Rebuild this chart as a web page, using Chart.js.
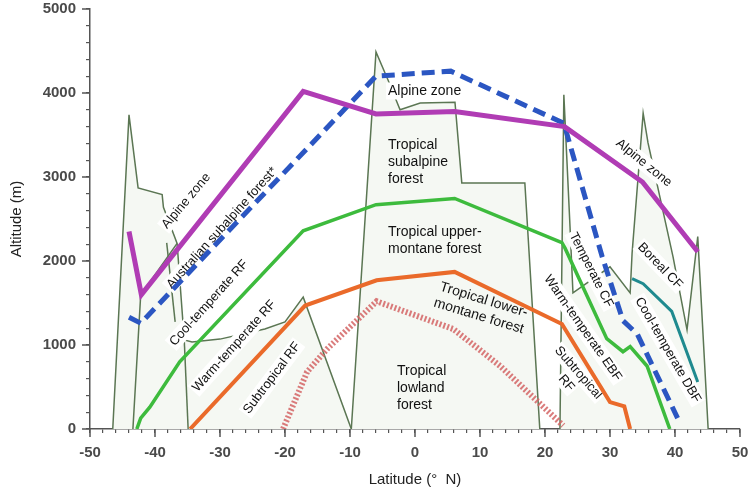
<!DOCTYPE html>
<html>
<head>
<meta charset="utf-8">
<script src="https://cdn.jsdelivr.net/npm/chart.js@4.4.1/dist/chart.umd.min.js"></script>
<style>
  html, body { margin: 0; padding: 0; background: #fff; }
  #wrap { width: 748px; height: 493px; }
</style>
</head>
<body>
<div id="wrap"><canvas id="chart"></canvas></div>
<script>
// tick labels
const latTicks = [-50, -40, -30, -20, -10, 0, 10, 20, 30, 40, 50];
const altTicks = [0, 1000, 2000, 3000, 4000, 5000];

// zone boundaries: latitude (deg N) / altitude (m)
const alpineLat = [-44, -42.1, -17.2, -6, 6.1, 23, 35, 43.5];
const alpineAlt = [2350, 1600, 4020, 3750, 3780, 3600, 2940, 2110];

const subalpineLat = [-44, -42.2, -6, 5.5, 22.9, 28.8, 32, 34.2, 40.4];
const subalpineAlt = [1330, 1260, 4200, 4260, 3640, 2050, 1290, 1130, 130];

const upperLat = [-42.8, -42.2, -40.8, -36.2, -17.2, -6, 6.1, 22.6, 23.1, 29.5, 32, 33.1, 35.7, 39.2];
const upperAlt = [0, 130, 260, 800, 2360, 2670, 2745, 2220, 2150, 1075, 920, 980, 750, 0];

const lowerLat = [-34.6, -16.9, -5.9, 6.1, 22.6, 30, 32.2, 33.1];
const lowerAlt = [0, 1470, 1770, 1870, 1250, 320, 270, 0];

const lowlandLat = [-20.3, -16.6, -13.5, -5.9, 5.9, 13.1, 22.8];
const lowlandAlt = [0, 680, 955, 1520, 1190, 750, 40];

const dbfLat = [33.4, 35.1, 39.5, 43.5];
const dbfAlt = [1790, 1730, 1400, 560];

// grey mountain outlines
const westLat = [-46.5, -44, -42.6, -38.9, -38.7, -36.6, -35.5, -34.3, -30, -23.1, -20, -17.2, -9.8];
const westAlt = [0, 3740, 2870, 2790, 2640, 2210, 1060, 1036, 1070, 1190, 1275, 1570, 0];

const midLat = [-9.8, -6, -4.15, -2.3, 0.8, 6.15, 7.2, 16.9, 19.2];
const midAlt = [0, 4490, 4155, 3800, 3880, 3890, 2930, 2930, 0];

const eastLat = [22.3, 22.9, 23.85, 24.3, 30, 33.1, 33.4, 35.1, 35.85, 39.7, 41.85, 43.5, 45.1];
const eastAlt = [0, 3980, 2405, 1620, 1930, 1620, 2095, 3760, 3405, 2050, 1180, 2290, 0];

const innerLat1 = [-43.4, -42.2, -36.6];
const innerAlt1 = [0, 1595, 2210];
const innerLat2 = [-38.2, -36.9];
const innerAlt2 = [2215, 1275];
const innerLat3 = [-35.5, -34.9];
const innerAlt3 = [1060, 0];

const zoneLabels = [
  { text: ['Alpine zone'], lat: -35.2, alt: 2714, rot: -50, bg: true },
  { text: ['Australian subalpine forest*'], lat: -29.7, alt: 2393, rot: -48, bg: true },
  { text: ['Cool-temperate RF'], lat: -31.7, alt: 1500, rot: -48, bg: true },
  { text: ['Warm-temperate RF'], lat: -27.8, alt: 988, rot: -48, bg: true },
  { text: ['Subtropical RF'], lat: -22, alt: 607, rot: -53, bg: true },
  { text: ['Alpine zone'], lat: -4.15, alt: 4024, rot: 0, bg: true, align: 'left', size: 14 },
  { text: ['Tropical', 'subalpine', 'forest'], lat: -4.15, alt: 3381, rot: 0, align: 'left', size: 14 },
  { text: ['Tropical upper-', 'montane forest'], lat: -4.15, alt: 2345, rot: 0, align: 'left', size: 14 },
  { text: ['Tropical lower-', 'montane forest'], lat: 10.2, alt: 1440, rot: 17, size: 14 },
  { text: ['Tropical', 'lowland', 'forest'], lat: -2.77, alt: 690, rot: 0, align: 'left', size: 14 },
  { text: ['Alpine zone'], lat: 35.2, alt: 3167, rot: 39, bg: true },
  { text: ['Temperate CF'], lat: 27.1, alt: 1893, rot: 63, bg: true },
  { text: ['Warm-temperate EBF'], lat: 25.8, alt: 1202, rot: 55, bg: true },
  { text: ['Subtropical', 'RF'], lat: 24.2, alt: 607, rot: 49, bg: true },
  { text: ['Boreal CF'], lat: 37.7, alt: 1940, rot: 46, bg: true },
  { text: ['Cool-temperate DBF'], lat: 38.9, alt: 940, rot: 60, bg: true }
];

function pts(xs, ys) {
  return xs.map((v, i) => ({ x: v, y: ys[i] }));
}

const FONT = '"Liberation Sans", Arial, sans-serif';
const OUTLINE = '#5b7653';
const SHADE = '#f5f8f3';

const datasets = [
  { data: pts(alpineLat, alpineAlt), borderColor: '#b03cb4', borderWidth: 5 },
  { data: pts(subalpineLat, subalpineAlt), borderColor: '#2b56c2', borderWidth: 5, borderDash: [13, 7] },
  { data: pts(upperLat, upperAlt), borderColor: '#3dbb3d', borderWidth: 3.5 },
  { data: pts(lowerLat, lowerAlt), borderColor: '#ea6a2a', borderWidth: 4 },
  { data: pts(lowlandLat, lowlandAlt), borderColor: 'rgba(212,100,100,0.85)', borderWidth: 6, borderDash: [2, 2] },
  { data: pts(dbfLat, dbfAlt), borderColor: '#1f8a8f', borderWidth: 3 },
  // outlines start here
  { data: pts(innerLat1, innerAlt1), borderColor: OUTLINE, borderWidth: 1.5 },
  { data: pts(innerLat2, innerAlt2), borderColor: OUTLINE, borderWidth: 1.5 },
  { data: pts(innerLat3, innerAlt3), borderColor: OUTLINE, borderWidth: 1.5 },
  { data: pts(westLat, westAlt), borderColor: OUTLINE, borderWidth: 1.5, fill: 'origin', backgroundColor: SHADE },
  { data: pts(midLat, midAlt), borderColor: OUTLINE, borderWidth: 1.5, fill: 'origin', backgroundColor: SHADE },
  { data: pts(eastLat, eastAlt), borderColor: OUTLINE, borderWidth: 1.5, fill: 'origin', backgroundColor: SHADE }
];
const OUTLINE_START = 6;

function drawLabel(ctx, xs, ys, lab) {
  const px = xs.getPixelForValue(lab.lat);
  const py = ys.getPixelForValue(lab.alt);
  const lh = lab.size ? 17 : 16;
  const n = lab.text.length;
  ctx.save();
  ctx.translate(px, py);
  ctx.rotate(lab.rot * Math.PI / 180);
  ctx.font = (lab.size || 13) + 'px ' + FONT;
  ctx.textBaseline = 'middle';
  lab.text.forEach((t, i) => {
    const w = ctx.measureText(t).width;
    const x0 = lab.align === 'left' ? 0 : -w / 2;
    const y0 = lab.align === 'left' ? i * lh : (i - (n - 1) / 2) * lh;
    if (lab.bg) {
      ctx.fillStyle = '#fff';
      ctx.fillRect(x0 - 2, y0 - lh / 2, w + 4, lh);
    }
    ctx.fillStyle = '#111';
    ctx.fillText(t, x0, y0);
  });
  ctx.restore();
}

const labelPlugin = {
  id: 'zoneLabels',
  afterDatasetDraw(chart, args) {
    if (args.index !== OUTLINE_START) return;
    const { ctx, scales } = chart;
    zoneLabels.forEach(lab => drawLabel(ctx, scales.x, scales.y, lab));
  }
};

// longer marks for the labelled ticks
const majorTicks = {
  id: 'majorTicks',
  afterDraw(chart) {
    const { ctx, scales: { x, y } } = chart;
    ctx.save();
    ctx.strokeStyle = '#555';
    ctx.lineWidth = 1.5;
    latTicks.forEach(v => {
      const p = x.getPixelForValue(v);
      ctx.beginPath(); ctx.moveTo(p, y.bottom); ctx.lineTo(p, y.bottom + 8); ctx.stroke();
    });
    altTicks.forEach(v => {
      const p = y.getPixelForValue(v);
      ctx.beginPath(); ctx.moveTo(x.left, p); ctx.lineTo(x.left - 8, p); ctx.stroke();
    });
    ctx.restore();
  }
};

new Chart(document.getElementById('chart'), {
  type: 'line',
  data: { datasets: datasets },
  plugins: [labelPlugin, majorTicks],
  options: {
    responsive: true,
    maintainAspectRatio: false,
    animation: false,
    layout: { padding: { top: 9, right: 8, left: 0, bottom: 0 } },
    elements: {
      point: { radius: 0, hoverRadius: 0 },
      line: { tension: 0, fill: false, borderCapStyle: 'butt', borderJoinStyle: 'miter' }
    },
    plugins: { legend: { display: false }, tooltip: { enabled: false } },
    scales: {
      x: {
        type: 'linear',
        min: -50, max: 50,
        afterFit: s => { s.height = 64; s.paddingLeft = 0; s.paddingRight = 0; },
        border: { display: true, color: '#555', width: 1.5 },
        grid: { display: true, drawOnChartArea: false, tickLength: 4, color: '#555', lineWidth: 1.2 },
        ticks: {
          stepSize: 2, autoSkip: false, maxRotation: 0, padding: 11,
          color: '#4a4a4a', font: { family: FONT, size: 15, weight: 'bold' },
          callback: v => latTicks.includes(Math.round(v)) ? Math.round(v) : ''
        },
        title: { display: true, text: 'Latitude (°  N)', color: '#222', font: { family: FONT, size: 15 }, padding: { top: 4, bottom: 4 } }
      },
      y: {
        min: 0, max: 5000,
        afterFit: s => { s.width = 90; s.paddingTop = 0; s.paddingBottom = 0; },
        border: { display: true, color: '#555', width: 1.5 },
        grid: { display: true, drawOnChartArea: false, tickLength: 4, color: '#555', lineWidth: 1.2 },
        ticks: {
          stepSize: 200, autoSkip: false, padding: 10,
          color: '#4a4a4a', font: { family: FONT, size: 15, weight: 'bold' },
          callback: v => altTicks.includes(Math.round(v)) ? Math.round(v) : ''
        },
        title: { display: true, text: 'Altitude (m)', color: '#222', font: { family: FONT, size: 15 }, padding: { top: 8, bottom: 4 } }
      }
    }
  }
});
</script>
</body>
</html>
